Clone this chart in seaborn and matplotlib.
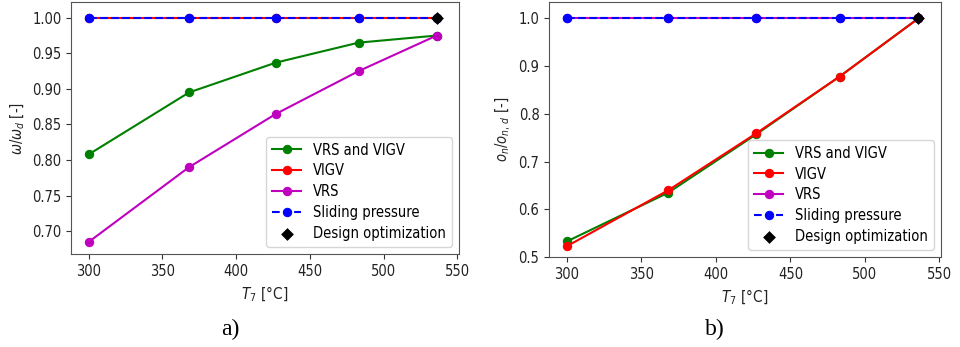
import matplotlib
matplotlib.use("Agg")
import matplotlib.pyplot as plt
import seaborn as sns
import pandas as pd

T7 = [300, 368, 427, 483, 536]

# panel a) omega / omega_d
omega_vrs_vigv = [0.808, 0.895, 0.937, 0.965, 0.975]
omega_vigv = [1.0, 1.0, 1.0, 1.0, 1.0]
omega_vrs = [0.685, 0.790, 0.865, 0.925, 0.975]
omega_sliding = [1.0, 1.0, 1.0, 1.0, 1.0]

# panel b) o_n / o_n,d
on_vrs_vigv = [0.533, 0.635, 0.757, 0.878, 1.0]
on_vigv = [0.523, 0.640, 0.759, 0.878, 1.0]
on_vrs = [1.0, 1.0, 1.0, 1.0, 1.0]
on_sliding = [1.0, 1.0, 1.0, 1.0, 1.0]

design_T = [536]
design_omega = [1.0]
design_on = [1.0]

labels = ["VRS and VIGV", "VIGV", "VRS", "Sliding pressure", "Design optimization"]

plt.rcParams['font.family'] = ['DejaVu Sans']
plt.rcParams['font.stretch'] = 'condensed'

fig = plt.figure(figsize=(9.6, 3.47), dpi=100)
ax1 = fig.add_axes([0.074, 0.268, 0.404, 0.726])
ax2 = fig.add_axes([0.572, 0.259, 0.408, 0.735])


def draw(ax, s1, s2, s3, s4, dT, dv):
    series = [(s1, 'green', '-'), (s2, 'red', '-'), (s3, 'm', '-'), (s4, 'blue', '--')]
    for (vals, c, ls), lab in zip(series, labels[:4]):
        df = pd.DataFrame({"T": T7, "v": vals})
        sns.lineplot(data=df, x="T", y="v", ax=ax, color=c, linestyle=ls, marker='o',
                     markersize=6, markeredgecolor=c, linewidth=1.5, label=lab)
    dfd = pd.DataFrame({"T": dT, "v": dv})
    sns.scatterplot(data=dfd, x="T", y="v", ax=ax, color='black', marker='D', s=36,
                    edgecolor='black', linewidth=0.5, label=labels[4], zorder=5)
    ax.set_xlim(288, 551)
    ax.set_xticks([300, 350, 400, 450, 500, 550])
    ax.tick_params(labelsize=10.5, colors='#333333', labelcolor='#222222')
    for sp in ax.spines.values():
        sp.set_color('#555555')
    ax.set_xlabel(r"$T_7$ [°C]", fontsize=11, color='#222222')
    ax.legend(loc='lower right', fontsize=10.5, frameon=True, borderpad=0.4,
              labelspacing=0.4, handlelength=2.0, handletextpad=0.8)


draw(ax1, omega_vrs_vigv, omega_vigv, omega_vrs, omega_sliding, design_T, design_omega)
ax1.set_ylim(0.668, 1.022)
ax1.set_yticks([0.70, 0.75, 0.80, 0.85, 0.90, 0.95, 1.00])
ax1.set_yticklabels(["0.70", "0.75", "0.80", "0.85", "0.90", "0.95", "1.00"])
ax1.set_ylabel(r"$\omega/\omega_d$ [-]", fontsize=10.5, color='#222222')

draw(ax2, on_vrs_vigv, on_vigv, on_vrs, on_sliding, design_T, design_on)
ax2.set_ylim(0.5, 1.034)
ax2.set_yticks([0.5, 0.6, 0.7, 0.8, 0.9, 1.0])
ax2.set_ylabel(r"$o_n/o_{n,\,d}$ [-]", fontsize=10.5, color='#222222')

fig.text(0.24, 0.05, "a)", fontsize=17, family='Liberation Serif', stretch='normal', ha='center', va='center')
fig.text(0.745, 0.05, "b)", fontsize=17, family='Liberation Serif', stretch='normal', ha='center', va='center')

fig.savefig("out.png", dpi=100)
